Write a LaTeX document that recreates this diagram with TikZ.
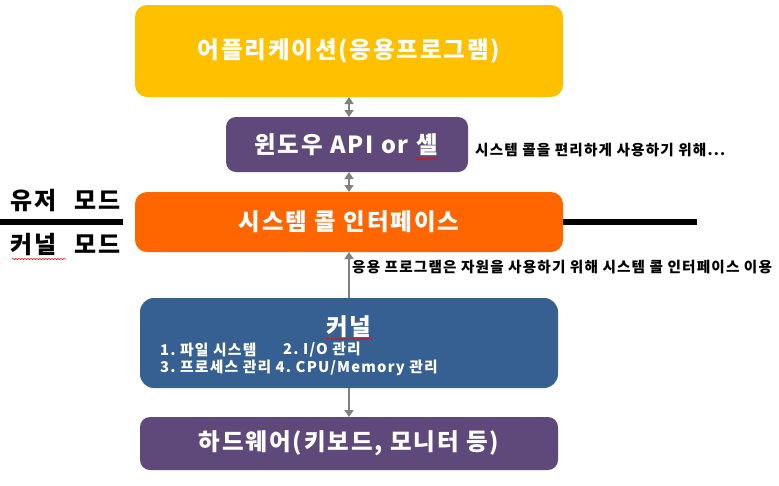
\documentclass[tikz,border=0pt]{standalone}
\usepackage{fontspec}
\setmainfont{Noto Sans CJK KR}[LetterSpace=8]
\usetikzlibrary{arrows.meta,decorations.pathmorphing}
\definecolor{appc}{HTML}{FFC000}
\definecolor{purp}{HTML}{5F497A}
\definecolor{orng}{HTML}{FF6600}
\definecolor{kblue}{HTML}{366092}
\definecolor{arr}{HTML}{808080}
\tikzset{
  box/.style={draw=none, inner sep=0pt, text=white, font=\bfseries\fontsize{23.5}{28}\selectfont},
  conn/.style={draw=arr, line width=2.8pt, -{Triangle[length=7pt,width=9pt]}},
  dconn/.style={draw=arr, line width=2.8pt, {Triangle[length=7pt,width=9pt]}-{Triangle[length=7pt,width=9pt]}},
  note/.style={font=\bfseries\fontsize{14.6}{17}\selectfont, anchor=west, inner sep=0pt},
  klist/.style={font=\bfseries\fontsize{14.8}{18}\selectfont, anchor=west, inner sep=0pt, text=white},
  side/.style={font=\bfseries\fontsize{24}{28}\selectfont, anchor=west, inner sep=0pt},
  squig/.style={draw=red, line width=0.5pt, decorate, decoration={snake, amplitude=0.7pt, segment length=3pt}},
}
\begin{document}
\begin{tikzpicture}[x=1pt,y=-1pt]
\useasboundingbox (0,0) rectangle (779,485);
% mode line
\draw[line width=6pt] (0,222) -- (123,222);
\draw[line width=6pt] (563,222) -- (697,222);
% boxes
\fill[appc, rounded corners=12pt] (135,5) rectangle (563,97);
\node[box] (app) at (349,51) {어플리케이션(응용프로그램)};
\fill[purp, rounded corners=10pt] (226,117) rectangle (468,172);
\node[box] (api) at (346,145) {윈도우 API or 셸};
\fill[orng, rounded corners=12pt] (135,192) rectangle (563,252);
\node[box] (sys) at (349,222) {시스템 콜 인터페이스};
\fill[kblue, rounded corners=14pt] (140,298) rectangle (558,388);
\node[box] (ker) at (349,327) {커널};
\node[klist] (k1) at (160,350) {1.\ 파일 시스템};
\node[klist] (k2) at (283,350) {2.\ I/O 관리};
\node[klist] (k3) at (160,368) {3.\ 프로세스 관리 4.\ CPU/Memory 관리};
\fill[purp, rounded corners=10pt] (140,417) rectangle (558,470);
\node[box] (hw) at (349,443) {하드웨어(키보드, 모니터 등)};
% anchor coordinates
\coordinate (appB) at (349,97);
\coordinate (apiT) at (349,117);
\coordinate (apiB) at (349,172);
\coordinate (sysT) at (349,192);
\coordinate (sysB) at (349,252);
\coordinate (kerT) at (349,298);
\coordinate (kerB) at (349,388);
\coordinate (hwT) at (349,417);
% arrows
\draw[dconn] (appB) -- (apiT);
\draw[dconn] (apiB) -- (sysT);
\draw[conn] (kerT) -- (sysB);
\draw[conn] (kerB) -- (hwT);
% notes
\node[note] (n1) at (475,150) {시스템 콜을 편리하게 사용하기 위해...};
\node[note] (n2) at (352,267) {응용 프로그램은 자원을 사용하기 위해 시스템 콜 인터페이스 이용};
% side labels
\node[side] (um) at (10,201) {유저\hspace{18pt}모드};
\node[side] (km) at (10,245) {커널\hspace{18pt}모드};
% spell-check marks
\draw[squig] (12,259) -- (66,259);
\draw[squig] (325,339) -- (373,339);
\draw[squig] (416,159) -- (438,159);
\end{tikzpicture}
\end{document}
